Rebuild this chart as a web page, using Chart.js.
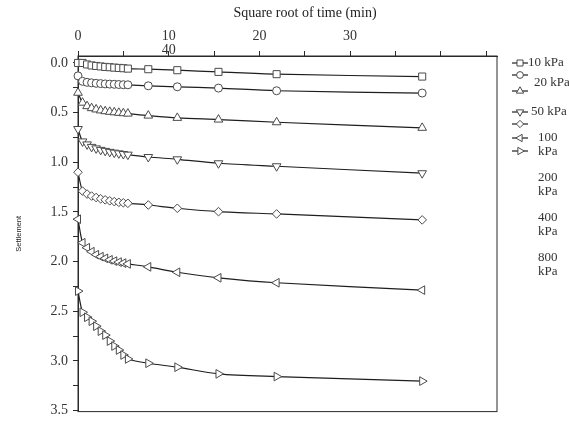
<!DOCTYPE html>
<html>
<head>
<meta charset="utf-8">
<script src="https://cdn.jsdelivr.net/npm/chart.js@4.4.1/dist/chart.umd.min.js"></script>
<style>
body{margin:0;background:#fff;}
#wrap{width:569px;height:425px;}
</style>
</head>
<body>
<div id="wrap"><canvas id="settleChart" width="569" height="425"></canvas></div>
<script>
// square root of time (min) of every reading
let sqrtTime = [0, 0.5, 1, 1.5, 2, 2.5, 3, 3.5, 4, 4.5, 5, 5.5, 7.75, 10.95, 15.49, 21.9, 37.95];

let loadLabels = ['10 kPa', '20 kPa', '50 kPa', '100 kPa', '200 kPa', '400 kPa', '800 kPa'];

// settlement read for each load step
let s10  = [0.00, 0.00, 0.015, 0.025, 0.03, 0.035, 0.04, 0.043, 0.047, 0.05, 0.053, 0.057, 0.063, 0.073, 0.09, 0.113, 0.137];
let s20  = [0.13, 0.185, 0.195, 0.20, 0.205, 0.208, 0.211, 0.213, 0.215, 0.217, 0.219, 0.22, 0.23, 0.24, 0.253, 0.28, 0.303];
let s50  = [0.30, 0.40, 0.435, 0.455, 0.468, 0.478, 0.486, 0.492, 0.497, 0.502, 0.506, 0.51, 0.53, 0.553, 0.57, 0.597, 0.653];
let s100 = [0.665, 0.79, 0.82, 0.845, 0.86, 0.875, 0.885, 0.895, 0.903, 0.91, 0.917, 0.923, 0.947, 0.97, 1.01, 1.04, 1.11];
let s200 = [1.10, 1.29, 1.32, 1.34, 1.355, 1.368, 1.378, 1.388, 1.396, 1.403, 1.408, 1.413, 1.43, 1.463, 1.497, 1.52, 1.58];
let s400 = [1.573, 1.81, 1.86, 1.90, 1.93, 1.95, 1.967, 1.982, 1.995, 2.005, 2.015, 2.023, 2.053, 2.107, 2.163, 2.213, 2.287];
let s800 = [2.297, 2.51, 2.56, 2.60, 2.65, 2.70, 2.74, 2.80, 2.85, 2.89, 2.94, 2.98, 3.023, 3.063, 3.13, 3.157, 3.203];

let xTicks = [0, 5, 10, 15, 20, 25, 30, 35, 40, 45];
let xTickLabels = [['0', ''], ['', ''], ['10', '40'], ['', ''], ['20', ''], ['', ''], ['30', ''], ['', ''], ['', ''], ['', '']];
let yTicks = [0, 0.25, 0.5, 0.75, 1, 1.25, 1.5, 1.75, 2, 2.25, 2.5, 2.75, 3, 3.25, 3.5];

// marker looks, one per series
let markStyle = ['rect', 'circle', 'triangle', 'triangle', 'rectRot', 'triangle', 'triangle'];
let markTurn = [0, 0, 0, 180, 0, -90, 90];
let markSize = [5, 4, 5, 5, 4.3, 5, 5];

// legend layout beside the plot (offsets from the plot's right / top edge)
let legendSymbolDy = [7, 19, 35, 56, 68, 82, 95];
let legendTextDx = [31, 37, 34, 41, 41, 41, 41];
let legendTextDy = [7, 27, 56, 82, 122, 162, 202];

let serif = '"Liberation Serif", "Times New Roman", serif';

let allSeries = [s10, s20, s50, s100, s200, s400, s800];
let datasets = allSeries.map((vals, i) => {
    return {
        label: loadLabels[i],
        data: vals.map((v, j) => ({x: sqrtTime[j], y: v})),
        borderColor: '#1e1e1e',
        borderWidth: 1.2,
        backgroundColor: '#ffffff',
        pointStyle: markStyle[i],
        pointRotation: markTurn[i],
        pointRadius: markSize[i],
        pointBorderColor: '#4a4a4a',
        pointBackgroundColor: '#ffffff',
        pointBorderWidth: 1,
        tension: 0.3,
        fill: false,
        clip: false
    };
});

let framePlugin = {
    id: 'frame',
    beforeDatasetsDraw(chart) {
        let a = chart.chartArea;
        let ctx = chart.ctx;
        ctx.save();
        ctx.strokeStyle = '#2a2a2a';
        ctx.lineWidth = 1;
        ctx.strokeRect(a.left, a.top, a.right - a.left, a.bottom - a.top);
        ctx.restore();
    }
};

let sideLegend = {
    id: 'sideLegend',
    afterDraw(chart) {
        let a = chart.chartArea;
        let ctx = chart.ctx;
        ctx.save();
        chart.data.datasets.forEach((ds, i) => {
            let y = a.top + legendSymbolDy[i];
            let x0 = a.right + 15;
            let x1 = a.right + 31;
            ctx.strokeStyle = '#1e1e1e';
            ctx.lineWidth = 1.2;
            ctx.beginPath();
            ctx.moveTo(x0, y);
            ctx.lineTo(x1, y);
            ctx.stroke();
            ctx.fillStyle = '#ffffff';
            ctx.strokeStyle = '#4a4a4a';
            ctx.lineWidth = 1;
            Chart.helpers.drawPoint(ctx, {
                pointStyle: ds.pointStyle,
                rotation: ds.pointRotation,
                radius: ds.pointRadius * 0.85,
                borderWidth: 1
            }, (x0 + x1) / 2, y);

            // the wider entries wrap onto two lines
            let lines = i < 3 ? [ds.label] : ds.label.split(' ');
            ctx.fillStyle = '#333333';
            ctx.font = '13px ' + serif;
            ctx.textBaseline = 'middle';
            ctx.textAlign = 'left';
            for (let k = 0; k < lines.length; k++) {
                ctx.fillText(lines[k], a.right + legendTextDx[i], a.top + legendTextDy[i] + k * 14);
            }
        });
        ctx.restore();
    }
};

let config = {
    type: 'line',
    data: {datasets: datasets},
    options: {
        responsive: false,
        animation: false,
        devicePixelRatio: 1,
        layout: {padding: {left: 0, right: 72, top: 0, bottom: 12}},
        plugins: {
            legend: {display: false},
            tooltip: {enabled: false}
        },
        scales: {
            x: {
                type: 'linear',
                position: 'top',
                min: 0,
                max: 46.2,
                afterBuildTicks: (scale) => {
                    scale.ticks = xTicks.map(v => ({value: v}));
                },
                ticks: {
                    autoSkip: false,
                    maxRotation: 0,
                    padding: -6,
                    color: '#333333',
                    font: {family: serif, size: 14, lineHeight: 1},
                    callback: (value, index) => xTickLabels[index]
                },
                grid: {drawOnChartArea: false, tickLength: 5, color: '#2a2a2a'},
                border: {color: '#2a2a2a'},
                title: {
                    display: true,
                    text: '          Square root of time (min)',
                    color: '#222222',
                    font: {family: serif, size: 14, lineHeight: 1.2},
                    padding: {top: 5.4, bottom: 12.8}
                }
            },
            y: {
                type: 'linear',
                reverse: true,
                min: -0.07,
                max: 3.51,
                afterBuildTicks: (scale) => {
                    scale.ticks = yTicks.map(v => ({value: v}));
                },
                ticks: {
                    autoSkip: false,
                    padding: 5,
                    color: '#333333',
                    font: {family: serif, size: 14},
                    callback: (value) => (value % 0.5 === 0 ? value.toFixed(1) : '')
                },
                grid: {drawOnChartArea: false, tickLength: 5, color: '#2a2a2a'},
                border: {color: '#2a2a2a'},
                title: {
                    display: true,
                    text: 'Settlement',
                    color: '#222222',
                    font: {family: '"Liberation Sans", Arial, sans-serif', size: 7.5},
                    padding: {top: 14.5, bottom: 22}
                }
            }
        }
    },
    plugins: [framePlugin, sideLegend]
};

let settleChart = new Chart(document.getElementById('settleChart'), config);
</script>
</body>
</html>
